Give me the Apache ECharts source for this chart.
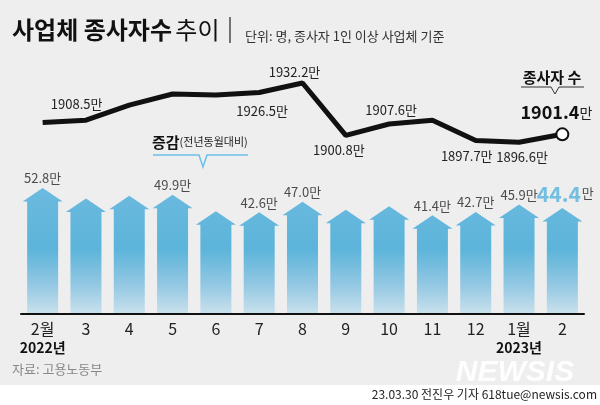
<!DOCTYPE html>
<html>
<head>
<meta charset="utf-8">
<script src="https://cdn.jsdelivr.net/npm/echarts@6/dist/echarts.min.js"></script>
<style>html,body{margin:0;padding:0;background:#fff}#c{width:600px;height:405px}</style>
</head>
<body>
<div id="c"></div>
<script>
// ---- data ----
const months = ['2월', '3', '4', '5', '6', '7', '8', '9', '10', '11', '12', '1월', '2'];
const years = ['2022년', '', '', '', '', '', '', '', '', '', '', '2023년', ''];
const workers = [1908.5, 1909.9, 1918.9, 1925.6, 1925.0, 1926.5, 1932.2, 1900.8, 1907.6, 1909.9, 1897.7, 1896.6, 1901.4];
const workersLabeled = [0, 5, 6, 7, 8, 10, 11, 12];
const change = [52.8, 48.4, 49.5, 49.9, 43.0, 42.6, 47.0, 43.7, 45.1, 41.4, 42.7, 45.9, 44.4];
const changeLabeled = [0, 3, 5, 6, 9, 10, 11, 12];

// ---- styling ----
const NUM = "'Liberation Sans Narrow', 'Noto Sans CJK KR', sans-serif";
const KR = "'Noto Sans CJK KR', sans-serif";
const last = workers.length - 1;
const lineLabelOffset = {0: [34, -18], 5: [3, 19], 6: [-8, -11], 7: [-7, 15], 8: [2, -14], 10: [-9, 16], 11: [3, 15], 12: [-6, -22]};

const chart = echarts.init(document.getElementById('c'), null, {renderer: 'canvas'});

const grad = new echarts.graphic.LinearGradient(0, 185, 0, 313, [
  {offset: 0, color: '#6dbadf'},
  {offset: 0.5, color: '#5cb4da'},
  {offset: 0.78, color: '#93c8e3'},
  {offset: 1, color: '#c8e0ec'}
], true);

const lineData = workers.map((v, i) => ({
  value: v,
  label: lineLabelOffset[i] && workersLabeled.includes(i) ? {show: true, offset: lineLabelOffset[i]} : {show: false}
}));

const barLabelData = change.map((v, i) => ({
  value: [i, v],
  label: {show: changeLabeled.includes(i), offset: i === last ? [3, 0] : [0, 0]}
}));

const option = {
  backgroundColor: '#eeeeee',
  animation: false,
  textStyle: {fontFamily: NUM},
  grid: [
    {left: 21, right: 16, top: 60, height: 140},
    {left: 21, right: 16, top: 160, bottom: 91}
  ],
  xAxis: [
    {type: 'category', gridIndex: 0, data: months, show: false, boundaryGap: true},
    {type: 'category', gridIndex: 1, data: months, boundaryGap: true,
      axisLine: {lineStyle: {color: '#111', width: 2}},
      axisTick: {show: false},
      axisLabel: {
        interval: 0, margin: 5, color: '#222', fontSize: 16, fontFamily: NUM, lineHeight: 19,
        formatter: (val, idx) => years[idx] ? val + '\n{y|' + years[idx] + '}' : val,
        rich: {y: {fontSize: 14, fontWeight: 'bold', color: '#111', fontFamily: NUM, lineHeight: 20}}
      }
    }
  ],
  yAxis: [
    {type: 'value', gridIndex: 0, min: 1862, max: 1946, show: false},
    {type: 'value', gridIndex: 1, min: 0, max: 64.5, show: false}
  ],
  series: [
    {
      type: 'custom', xAxisIndex: 1, yAxisIndex: 1,
      data: change.map((v, i) => [i, v]),
      renderItem: function (params, api) {
        const tip = api.coord([api.value(0), api.value(1)]);
        const base = api.coord([api.value(0), 0]);
        const bw = 31, hw = 40, hh = 13.5, x = tip[0], t = tip[1];
        return {
          type: 'polygon',
          shape: {points: [[x, t], [x + hw / 2, t + hh], [x + bw / 2, t + hh], [x + bw / 2, base[1] - 1], [x - bw / 2, base[1] - 1], [x - bw / 2, t + hh], [x - hw / 2, t + hh]]},
          style: {fill: grad}
        };
      }
    },
    {
      type: 'scatter', xAxisIndex: 1, yAxisIndex: 1, symbolSize: 0,
      data: barLabelData,
      label: {
        position: 'top', distance: 3, color: '#222', fontSize: 13, fontFamily: NUM,
        formatter: p => p.dataIndex === last ? '{a|' + p.value[1].toFixed(1) + '}{b|만}' : p.value[1].toFixed(1) + '만',
        rich: {
          a: {fontSize: 21, fontWeight: 'bold', color: '#55b1db', fontFamily: NUM},
          b: {fontSize: 13, color: '#222', fontFamily: NUM, padding: [0, 0, 3, 1]}
        }
      }
    },
    {
      type: 'line', xAxisIndex: 0, yAxisIndex: 0,
      data: lineData,
      lineStyle: {color: '#111', width: 5},
      symbol: 'circle',
      symbolSize: (v, p) => p.dataIndex === last ? 12 : 0,
      itemStyle: {color: '#fff', borderColor: '#111', borderWidth: 2},
      label: {
        position: 'inside', color: '#222', fontSize: 13, fontFamily: NUM,
        formatter: p => p.dataIndex === last ? '{a|' + p.value.toFixed(1) + '}{b|만}' : p.value.toFixed(1) + '만',
        rich: {
          a: {fontSize: 18, fontWeight: 'bold', color: '#111', fontFamily: NUM},
          b: {fontSize: 14, color: '#222', fontFamily: NUM}
        }
      },
      z: 5
    }
  ],
  graphic: [
    {type: 'rect', shape: {x: 0, y: 385, width: 600, height: 20}, style: {fill: '#ffffff'}},
    {type: 'text', x: 12, y: 30, style: {
      text: '{a|사업체 종사자수} {b|추이}', verticalAlign: 'middle',
      rich: {a: {fontSize: 24, fontWeight: 'bold', fill: '#111', fontFamily: KR}, b: {fontSize: 24, fill: '#111', fontFamily: KR}}
    }},
    {type: 'line', shape: {x1: 230, y1: 17, x2: 230, y2: 43}, style: {stroke: '#222', lineWidth: 1.2}},
    {type: 'text', x: 245, y: 36, style: {text: '단위: 명, 종사자 1인 이상 사업체 기준', fontSize: 13, fill: '#333', fontFamily: KR, verticalAlign: 'middle'}},
    {type: 'text', x: 552, y: 77, style: {text: '종사자 수', fontSize: 15, fontWeight: 'bold', fill: '#111', fontFamily: KR, align: 'center', verticalAlign: 'middle'}},
    {type: 'polyline', shape: {points: [[521, 87], [551, 87], [555, 94], [559, 87], [584, 87]]}, style: {stroke: '#333', lineWidth: 1, fill: null}},
    {type: 'text', x: 152, y: 142, style: {
      text: '{a|증감}{b|(전년동월대비)}', verticalAlign: 'middle',
      rich: {a: {fontSize: 15, fontWeight: 'bold', fill: '#111', fontFamily: KR}, b: {fontSize: 11, fill: '#222', fontFamily: KR}}
    }},
    {type: 'polyline', shape: {points: [[153, 155], [199, 155], [203, 167], [207, 155], [248, 155]]}, style: {stroke: '#6cc0e8', lineWidth: 1.5, fill: null}},
    {type: 'text', x: 12, y: 369, style: {text: '자료: 고용노동부', fontSize: 13, fill: '#888', fontFamily: KR, verticalAlign: 'middle'}},
    {type: 'text', x: 515, y: 373, style: {text: 'NEWSIS', fontSize: 30, fontWeight: 900, fontStyle: 'italic', fill: '#ffffff', fontFamily: "'Liberation Sans', sans-serif", align: 'center', verticalAlign: 'middle', opacity: 0.9}},
    {type: 'text', x: 597, y: 394, style: {text: '23.03.30 전진우 기자 618tue@newsis.com', fontSize: 12, fill: '#222', fontFamily: NUM, align: 'right', verticalAlign: 'middle'}}
  ]
};
chart.setOption(option);
</script>
</body>
</html>
